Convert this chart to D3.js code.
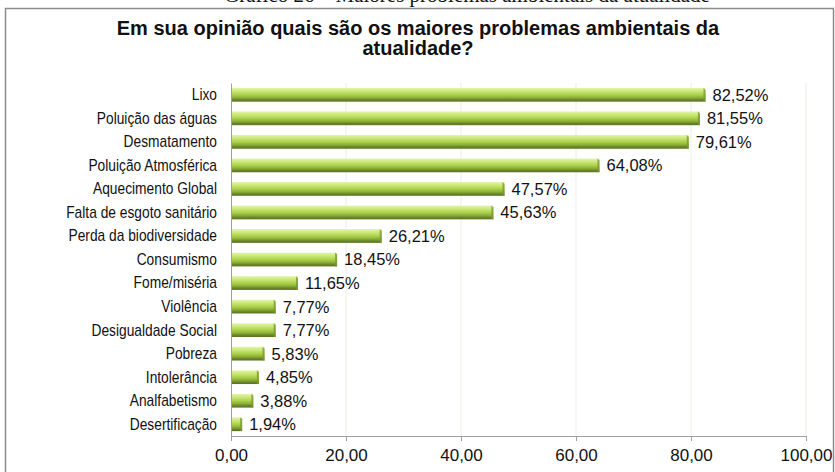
<!DOCTYPE html>
<html>
<head>
<meta charset="utf-8">
<script src="https://cdn.jsdelivr.net/npm/d3@7"></script>
<style>
  body { margin: 0; background: #fff; }
  svg { display: block; }
</style>
</head>
<body>
<div id="wrapper"></div>
<script>
const categories = ["Lixo", "Poluição das águas", "Desmatamento ", "Poluição Atmosférica", "Aquecimento Global",
    "Falta de esgoto sanitário", "Perda da biodiversidade", "Consumismo", "Fome/miséria ", "Violência",
    "Desigualdade Social", "Pobreza", "Intolerância ", "Analfabetismo", "Desertificação"]
const values = [82.52, 81.55, 79.61, 64.08, 47.57, 45.63, 26.21, 18.45, 11.65, 7.77, 7.77, 5.83, 4.85, 3.88, 1.94]
const xTicks = [0, 20, 40, 60, 80, 100]

const caption = "Gráfico 26 – Maiores problemas ambientais da atualidade"
const titleLines = ["Em sua opinião quais são os maiores problemas ambientais da", "atualidade?"]

const dimensions = {
    width: 835,
    height: 472,
    margin: { top: 83, right: 29, bottom: 36, left: 231 }
}
dimensions.boundedWidth = dimensions.width - dimensions.margin.left - dimensions.margin.right
dimensions.boundedHeight = dimensions.height - dimensions.margin.top - dimensions.margin.bottom

const comma = d => d.toFixed(2).replace(".", ",")
const sans = "'Liberation Sans', Arial, sans-serif"

// squeeze text horizontally, like the narrow rendering of the original
const squeeze = (sel, k) => sel.each(function() {
    const len = this.getComputedTextLength()
    d3.select(this).attr("textLength", len * k).attr("lengthAdjust", "spacingAndGlyphs")
})

const svg = d3.select("#wrapper")
    .append("svg")
    .attr("width", dimensions.width)
    .attr("height", dimensions.height)

const defs = svg.append("defs")
const grad = defs.append("linearGradient")
    .attr("id", "barGrad")
    .attr("x1", 0).attr("y1", 0).attr("x2", 0).attr("y2", 1)
grad.selectAll("stop")
    .data([
        [0, "#e4f5a8"], [0.25, "#c9e777"], [0.5, "#acd14a"],
        [0.7, "#8fb23a"], [0.85, "#6d8a2a"], [1, "#55701f"]
    ])
    .join("stop")
    .attr("offset", d => d[0])
    .attr("stop-color", d => d[1])

// caption above the frame (only its lower part shows)
svg.append("text")
    .attr("x", 467)
    .attr("y", 2)
    .attr("text-anchor", "middle")
    .style("font-family", "'Liberation Serif', serif")
    .style("font-size", "21px")
    .attr("fill", "#111")
    .text(caption)

// chart frame
svg.append("rect")
    .attr("x", 5.5)
    .attr("y", 8.5)
    .attr("width", 828)
    .attr("height", 480)
    .attr("fill", "#fff")
    .attr("stroke", "#8c8c8c")
    .attr("stroke-width", 1.5)

svg.append("g")
    .selectAll("text")
    .data(titleLines)
    .join("text")
    .attr("x", 418)
    .attr("y", (d, i) => 35 + i * 20)
    .attr("text-anchor", "middle")
    .style("font-family", sans)
    .style("font-size", "20px")
    .style("font-weight", "bold")
    .attr("fill", "#111")
    .text(d => d)

const bounds = svg.append("g")
    .attr("transform", `translate(${dimensions.margin.left}, ${dimensions.margin.top})`)

const xScale = d3.scaleLinear()
    .domain([0, 100])
    .range([0, dimensions.boundedWidth])

const yScale = d3.scaleBand()
    .domain(categories)
    .range([0, dimensions.boundedHeight])
    .paddingInner(0.5)
    .paddingOuter(0.25)

// gridlines
bounds.append("g")
    .selectAll("line")
    .data(xTicks.slice(1))
    .join("line")
    .attr("x1", d => xScale(d)).attr("x2", d => xScale(d))
    .attr("y1", 0).attr("y2", dimensions.boundedHeight)
    .attr("stroke", "#ecece4")
    .attr("stroke-width", 1)

// bars
const barG = bounds.append("g")
barG.selectAll("rect")
    .data(values)
    .join("rect")
    .attr("x", 0)
    .attr("y", (d, i) => yScale(categories[i]) - 1)
    .attr("width", d => xScale(d))
    .attr("height", yScale.bandwidth() + 2)
    .attr("fill", "url(#barGrad)")

// end cap shading
barG.selectAll("path")
    .data(values)
    .join("path")
    .attr("d", (d, i) => {
        const y0 = yScale(categories[i]) - 1
        const h = yScale.bandwidth() + 2
        const x1 = xScale(d)
        return `M${x1 - 2},${y0} L${x1},${y0 + 2} L${x1},${y0 + h} L${x1 - 2},${y0 + h} Z`
    })
    .attr("fill", "#7a9a30")
    .attr("opacity", 0.8)

// value labels
bounds.append("g")
    .selectAll("text")
    .data(values)
    .join("text")
    .attr("x", d => xScale(d) + 7)
    .attr("y", (d, i) => yScale(categories[i]) + yScale.bandwidth() / 2)
    .attr("dy", "0.36em")
    .style("font-family", sans)
    .style("font-size", "16.5px")
    .attr("fill", "#111")
    .text(d => comma(d) + "%")

// y axis
const yAxis = d3.axisLeft(yScale).tickSize(0).tickPadding(14)
const yAxisEl = bounds.append("g").call(yAxis)
yAxisEl.select(".domain").attr("stroke", "#a0a0a0")
yAxisEl.selectAll("text")
    .style("font-family", sans)
    .style("font-size", "17px")
    .attr("fill", "#111")
    .call(squeeze, 0.81)

// x axis
const xAxis = d3.axisBottom(xScale)
    .tickValues(xTicks)
    .tickFormat(comma)
    .tickSize(5)
    .tickSizeOuter(0)
    .tickPadding(8)
const xAxisEl = bounds.append("g")
    .attr("transform", `translate(0, ${dimensions.boundedHeight})`)
    .call(xAxis)
xAxisEl.select(".domain").attr("stroke", "#a0a0a0")
xAxisEl.selectAll(".tick line").attr("stroke", "#a0a0a0")
xAxisEl.selectAll("text")
    .style("font-family", sans)
    .style("font-size", "17px")
    .attr("fill", "#111")
</script>
</body>
</html>
